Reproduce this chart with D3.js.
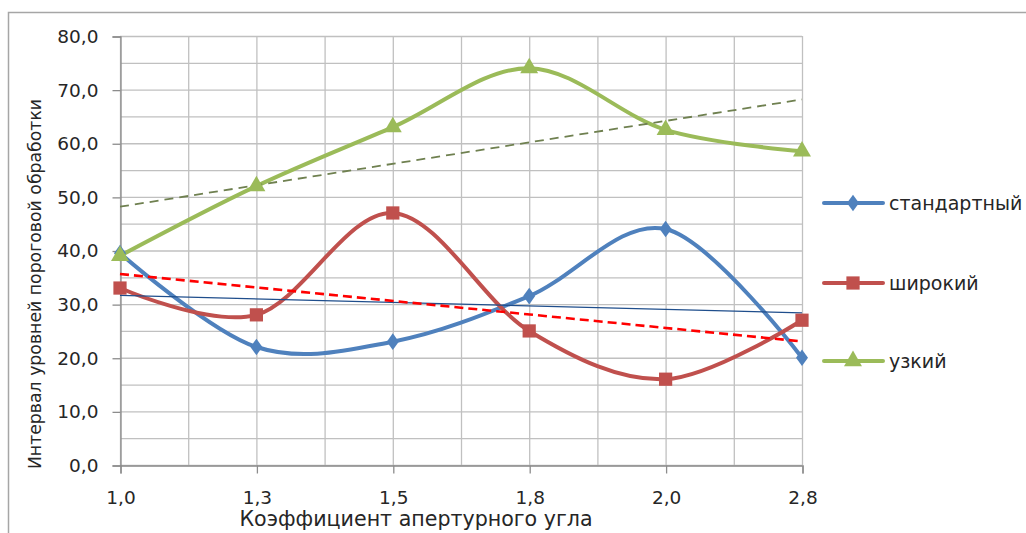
<!DOCTYPE html>
<html><head><meta charset="utf-8">
<script src="https://cdn.jsdelivr.net/npm/d3@7"></script>
<style>
html,body{margin:0;padding:0;background:#fff;}
svg{display:block;}
text{font-family:"DejaVu Sans",Verdana,sans-serif;fill:#262626;}
</style></head>
<body>
<svg id="c" width="1026" height="533"></svg>
<script>
const categories = ["1,0","1,3","1,5","1,8","2,0","2,8"];
const seriesNames = ["стандартный","широкий","узкий"];
const standard = [39.5, 22.0, 23.0, 31.5, 44.0, 20.0];
const wide     = [33.0, 28.0, 47.0, 25.0, 16.0, 27.0];
const narrow   = [39.0, 52.0, 63.0, 74.0, 62.5, 58.5];
const yTicks = [0,10,20,30,40,50,60,70,80];
const xTitle = "Коэффициент апертурного угла";
const yTitle = "Интервал уровней пороговой обработки";

(function(){
const svg = d3.select("#c");
const W = 1026, H = 533;
const pL = 120, pR = 802, pT = 36, pB = 465;

// chart area border
svg.append("path").attr("d", `M8.5,${H} L8.5,12.5 L${W},12.5`)
  .attr("fill","none").attr("stroke","#a6a6a6").attr("stroke-width",1.5);

const x = d3.scalePoint().domain(d3.range(categories.length)).range([pL, pR]);
const y = d3.scaleLinear().domain([0,80]).range([pB, pT]);
const step = x.step();

// gridlines
const g = svg.append("g");
const minorY = d3.range(0, 80.01, 5);
g.selectAll("line.hy").data(minorY).enter().append("line")
  .attr("x1", pL).attr("x2", pR).attr("y1", d=>y(d)+0.5).attr("y2", d=>y(d)+0.5)
  .attr("stroke","#c0c0c0").attr("stroke-width",1.3);
const vx = d3.range(0, categories.length - 0.99, 0.5);
g.selectAll("line.vx").data(vx).enter().append("line")
  .attr("x1", d=>pL + d*step + 0.5).attr("x2", d=>pL + d*step + 0.5)
  .attr("y1", pT).attr("y2", pB)
  .attr("stroke","#c0c0c0").attr("stroke-width",1.3);

// axes
const yAxis = d3.axisLeft(y).tickValues(yTicks).tickSize(8).tickPadding(14)
  .tickFormat(d => d3.format(".1f")(d).replace(".", ","));
const ya = svg.append("g").attr("transform", `translate(${pL+0.5},0.5)`).call(yAxis);
ya.select(".domain").attr("stroke","#8c8c8c").attr("stroke-width",1.3);
ya.selectAll(".tick line").attr("stroke","#8c8c8c").attr("stroke-width",1.3);
ya.selectAll(".tick text").style("font-size","18.5px").attr("fill","#262626");

const xAxis = d3.axisBottom(x).tickSize(8).tickPadding(17).tickFormat(i => categories[i]);
const xa = svg.append("g").attr("transform", `translate(0.5,${pB+0.5})`).call(xAxis);
xa.select(".domain").attr("stroke","#8c8c8c").attr("stroke-width",1.3);
xa.selectAll(".tick line").attr("stroke","#8c8c8c").attr("stroke-width",1.3);
xa.selectAll(".tick text").style("font-size","18.5px").attr("fill","#262626");

// titles
svg.append("text").attr("x", 416).attr("y", 526).attr("text-anchor","middle")
  .style("font-size","20.6px").text(xTitle);
svg.append("text").attr("transform", "translate(41,284) rotate(-90)").attr("text-anchor","middle")
  .style("font-size","17.3px").text(yTitle);

// trend lines (linear regression, as Excel trendline)
function regress(vals){
  const n = vals.length, xs = d3.range(1, n+1);
  const mx = d3.mean(xs), my = d3.mean(vals);
  let sxy = 0, sxx = 0;
  xs.forEach((xi,i)=>{ sxy += (xi-mx)*(vals[i]-my); sxx += (xi-mx)*(xi-mx); });
  const b = sxy/sxx, a = my - b*mx;
  return [a + b*1, a + b*n];
}
const trendStyles = [
  {data: standard, color:"#1f4e8c", width:1.2, dash:null},
  {data: wide, color:"#ff0000", width:2.6, dash:"9,5"},
  {data: narrow, color:"#6f8050", width:1.8, dash:"9,6"}
];

const colors = ["#4f81bd","#c0504d","#9bbb59"];
const allData = [standard, wide, narrow];
const line = d3.line().x((d,i)=>x(i)).y(d=>y(d)).curve(d3.curveCatmullRom.alpha(0));

const symbols = [
  d3.symbol().type(d3.symbolDiamond).size(80),
  d3.symbol().type(d3.symbolSquare).size(175),
  d3.symbol().type(d3.symbolTriangle).size(140)
];

allData.forEach((data, si) => {
  svg.append("path").datum(data).attr("d", line)
    .attr("fill","none").attr("stroke", colors[si]).attr("stroke-width",4)
    .attr("stroke-linejoin","round").attr("stroke-linecap","round");
});

trendStyles.forEach(t => {
  const [a,b] = regress(t.data);
  svg.append("line").attr("x1", x(0)).attr("x2", x(categories.length-1))
    .attr("y1", y(a)).attr("y2", y(b))
    .attr("stroke", t.color).attr("stroke-width", t.width)
    .attr("stroke-dasharray", t.dash);
});

allData.forEach((data, si) => {
  svg.append("g").selectAll("path").data(data).enter().append("path")
    .attr("d", symbols[si])
    .attr("transform", (d,i)=>`translate(${x(i)},${y(d)})` + (si===0 ? " scale(1.25,1)" : ""))
    .attr("fill", colors[si]);
});

// legend
const legY = [203, 283, 361];
seriesNames.forEach((name, si) => {
  const lg = svg.append("g").attr("transform", `translate(0,${legY[si]})`);
  lg.append("line").attr("x1", 824).attr("x2", 883).attr("y1",0).attr("y2",0)
    .attr("stroke", colors[si]).attr("stroke-width",4).attr("stroke-linecap","round");
  lg.append("path").attr("d", symbols[si]).attr("transform", "translate(853,0)" + (si===0 ? " scale(1.25,1)" : ""))
    .attr("fill", colors[si]);
  lg.append("text").attr("x", 889).attr("y", 0).attr("dy","0.35em")
    .style("font-size","19px").text(name);
});
})();
</script>
</body></html>
